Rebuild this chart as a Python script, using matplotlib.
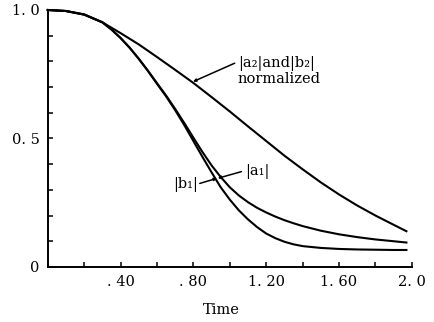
import numpy as np
import matplotlib
matplotlib.use("Agg")
import matplotlib.pyplot as plt

# values
t_upper = [0.0, 0.1, 0.2, 0.3, 0.4, 0.5, 0.6, 0.7, 0.8, 0.9, 1.0,
           1.1, 1.2, 1.3, 1.4, 1.5, 1.6, 1.7, 1.8, 1.9, 1.97]
a2_b2 = [1.0, 0.996, 0.983, 0.952, 0.91, 0.866, 0.817, 0.767, 0.716, 0.661, 0.605,
         0.547, 0.49, 0.433, 0.38, 0.329, 0.282, 0.239, 0.2, 0.164, 0.139]

t_lower = [0.0, 0.1, 0.2, 0.3, 0.35, 0.4, 0.45, 0.5, 0.55, 0.6, 0.65, 0.7,
           0.75, 0.8, 0.85, 0.9, 0.95, 1.0, 1.05, 1.1, 1.15, 1.2, 1.25,
           1.3, 1.35, 1.4, 1.5, 1.6, 1.7, 1.8, 1.9, 1.97]
a1 = [1.0, 0.996, 0.982, 0.952, 0.924, 0.891, 0.853, 0.81, 0.764, 0.715, 0.667, 0.615,
      0.56, 0.503, 0.447, 0.395, 0.35, 0.31, 0.278, 0.252, 0.23, 0.212, 0.196,
      0.182, 0.17, 0.159, 0.141, 0.127, 0.116, 0.107, 0.1, 0.095]
b1 = [1.0, 0.996, 0.982, 0.952, 0.924, 0.891, 0.853, 0.81, 0.763, 0.713, 0.664, 0.61,
      0.552, 0.49, 0.428, 0.368, 0.31, 0.262, 0.22, 0.185, 0.155, 0.13, 0.112,
      0.098, 0.088, 0.081, 0.074, 0.07, 0.068, 0.067, 0.066, 0.066]

x_ticks = [0.2, 0.4, 0.6, 0.8, 1.0, 1.2, 1.4, 1.6, 1.8, 2.0]
x_labels = ["", ". 40", "", ". 80", "", "1. 20", "", "1. 60", "", "2. 0"]
y_ticks = [0.0, 0.1, 0.2, 0.3, 0.4, 0.5, 0.6, 0.7, 0.8, 0.9, 1.0]
y_labels = ["0", "", "", "", "", "0. 5", "", "", "", "", "1. 0"]

plt.rcParams['font.family'] = ['DejaVu Serif']
fs = 10.5

fig = plt.figure(figsize=(4.34, 3.22), dpi=100)
ax = fig.add_axes([0.11, 0.171, 0.839, 0.798])

ax.plot(t_upper, a2_b2, color='black', lw=1.5, clip_on=False, solid_joinstyle='round')
ax.plot(t_lower, a1, color='black', lw=1.5, clip_on=False, solid_joinstyle='round')
ax.plot(t_lower, b1, color='black', lw=1.5, clip_on=False, solid_joinstyle='round')

ax.set_xlim(0, 2.0)
ax.set_ylim(0, 1.0)
ax.spines['top'].set_visible(False)
ax.spines['right'].set_visible(False)
ax.spines['left'].set_linewidth(1.4)
ax.spines['bottom'].set_linewidth(1.4)

ax.set_xticks(x_ticks)
ax.set_xticklabels(x_labels, fontsize=fs)
ax.set_yticks(y_ticks)
ax.set_yticklabels(y_labels, fontsize=fs)
ax.tick_params(direction='in', length=3.5, width=1.1, pad=6)
ax.set_xlabel("Time", fontsize=fs, labelpad=2)
ax.xaxis.set_label_coords(0.478, -0.14)

arrow = dict(arrowstyle='-|>', color='black', lw=1.1, mutation_scale=4,
             shrinkA=0, shrinkB=0)
ax.annotate("", xy=(0.798, 0.721), xytext=(1.027, 0.793), arrowprops=arrow)
ax.text(1.044, 0.763, "|a\u2082|and|b\u2082|\nnormalized", fontsize=fs,
        ha='left', va='center', linespacing=1.15)

ax.annotate("", xy=(0.934, 0.345), xytext=(1.064, 0.371), arrowprops=arrow)
ax.text(1.082, 0.371, "|a\u2081|", fontsize=fs, ha='left', va='center')

ax.annotate("", xy=(0.93, 0.345), xytext=(0.835, 0.325), arrowprops=arrow)
ax.text(0.824, 0.32, "|b\u2081|", fontsize=fs, ha='right', va='center')

fig.savefig("out.png", dpi=100)
